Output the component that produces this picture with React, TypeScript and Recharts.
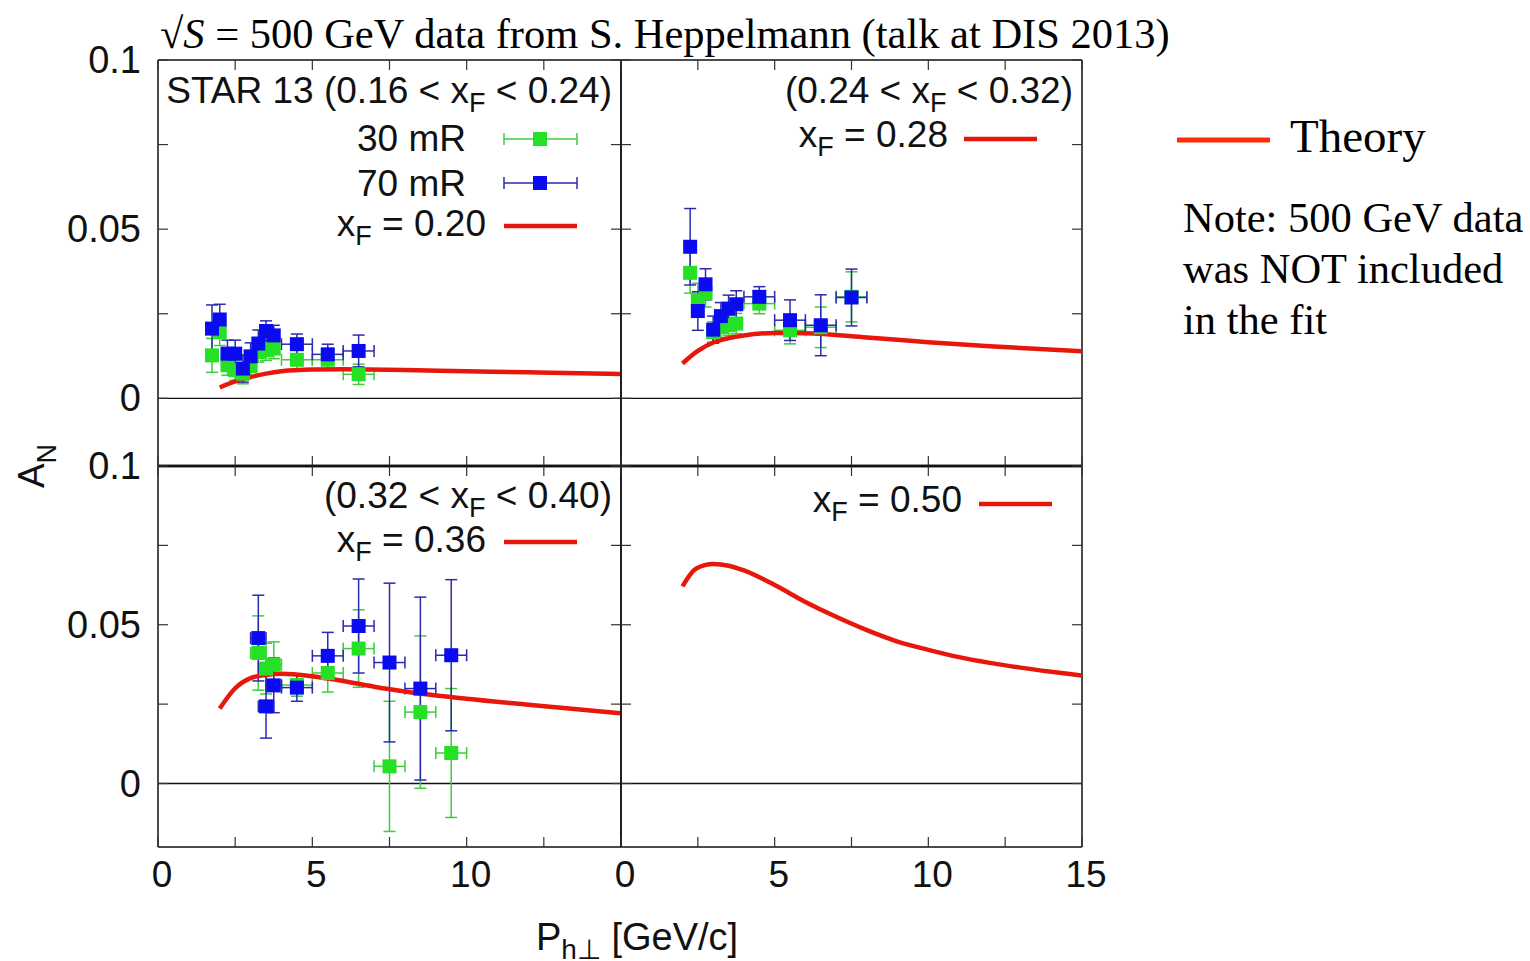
import React from 'react';
import { ScatterChart, Scatter, XAxis, YAxis, ErrorBar, ReferenceLine } from 'recharts';

const RED = '#e8170c';
const GREEN = '#26e026';
const GREEN_ERR = '#3ccc3c';
const BLUE = '#0b0bf2';
const BLUE_ERR = '#2a2ab0';
const FRAME = '#111';
const SANS = '"Liberation Sans", Arial, sans-serif';
const SERIF = '"Liberation Serif", "Times New Roman", serif';
const FS = 37;

// panel 1: 0.16 < xF < 0.24
const x20 = [1.75, 2.0, 2.25, 2.5, 2.75, 3.0, 3.25, 3.5, 3.75, 4.5, 5.5, 6.5];
const ex20 = [0.125, 0.125, 0.125, 0.125, 0.125, 0.125, 0.125, 0.125, 0.125, 0.5, 0.5, 0.5];
const blue20 = [0.0206, 0.0233, 0.0132, 0.0132, 0.0088, 0.0124, 0.0162, 0.0199, 0.0186, 0.016, 0.013, 0.014];
const blueErr20 = [0.007, 0.0045, 0.004, 0.004, 0.004, 0.004, 0.004, 0.003, 0.003, 0.003, 0.003, 0.0047];
const green20 = [0.0127, 0.0196, 0.0098, 0.0083, 0.0073, 0.0095, 0.0137, 0.0142, 0.0147, 0.0114, 0.0114, 0.0071];
const greenErr20 = [0.005, 0.004, 0.003, 0.003, 0.003, 0.003, 0.003, 0.003, 0.003, 0.003, 0.003, 0.003];
const thX20 = [2.0, 2.5, 3.0, 3.5, 4.0, 5.0, 6.0, 8.0, 10.0, 12.0, 15.0];
const thY20 = [0.0032, 0.005, 0.0063, 0.0073, 0.008, 0.0085, 0.0086, 0.0084, 0.008, 0.0077, 0.0072];

// panel 2: 0.24 < xF < 0.32
const x28 = [2.25, 2.5, 2.75, 3.0, 3.25, 3.5, 3.75, 4.5, 5.5, 6.5, 7.5];
const ex28 = [0.125, 0.125, 0.125, 0.125, 0.125, 0.125, 0.125, 0.5, 0.5, 0.5, 0.5];
const blue28 = [0.0448, 0.0258, 0.0337, 0.0203, 0.0243, 0.0265, 0.0278, 0.03, 0.0231, 0.0216, 0.0298];
const blueErr28 = [0.0113, 0.0057, 0.0046, 0.004, 0.004, 0.004, 0.004, 0.003, 0.006, 0.009, 0.0084];
const green28 = [0.0371, 0.029, 0.031, 0.0196, 0.021, 0.0216, 0.0221, 0.028, 0.0201, 0.021, 0.03];
const greenErr28 = [0.006, 0.005, 0.004, 0.003, 0.003, 0.003, 0.003, 0.003, 0.004, 0.006, 0.0074];
const thX28 = [2.0, 2.5, 3.0, 3.5, 4.0, 5.0, 6.0, 8.0, 10.0, 12.0, 15.0];
const thY28 = [0.0103, 0.014, 0.0165, 0.0178, 0.0186, 0.0193, 0.0192, 0.018, 0.0166, 0.0154, 0.0139];

// panel 3: 0.32 < xF < 0.40
const x36 = [3.25, 3.5, 3.75, 4.5, 5.5, 6.5, 7.5, 8.5, 9.5];
const ex36 = [0.25, 0.25, 0.25, 0.5, 0.5, 0.5, 0.5, 0.5, 0.5];
const blue36 = [0.0458, 0.0243, 0.0309, 0.0302, 0.0402, 0.0496, 0.0381, 0.0299, 0.0404];
const blueErr36 = [0.0135, 0.01, 0.0086, 0.0043, 0.0074, 0.0148, 0.025, 0.0288, 0.0238];
const green36 = [0.0411, 0.0362, 0.0374, 0.031, 0.0348, 0.0425, 0.0054, 0.0225, 0.0096];
const greenErr36 = [0.0117, 0.008, 0.0072, 0.0035, 0.006, 0.0122, 0.0205, 0.024, 0.0203];
const thX36 = [2.0, 2.5, 3.0, 3.5, 4.0, 5.0, 6.0, 7.0, 8.0, 10.0, 12.0, 15.0];
const thY36 = [0.0236, 0.03, 0.0332, 0.0342, 0.0346, 0.0338, 0.0323, 0.0305, 0.029, 0.0267, 0.0248, 0.0221];

// panel 4: xF = 0.50 (theory only)
const thX50 = [2.0, 2.45, 3.0, 3.5, 4.0, 5.0, 6.0, 7.0, 8.0, 9.0, 10.0, 11.0, 12.0, 13.0, 14.0, 15.0];
const thY50 = [0.0621, 0.0677, 0.0691, 0.0686, 0.0671, 0.0625, 0.0572, 0.0525, 0.0483, 0.0447, 0.0421, 0.0398, 0.038, 0.0365, 0.0352, 0.034];

const xTicks = [0, 2.5, 5, 7.5, 10, 12.5, 15];
const yTicks = [0, 0.025, 0.05, 0.075, 0.1];

const points = (xs: number[], ex: number[], ys: number[], ey: number[]) =>
  xs.map((x, i) => ({ x, y: ys[i], ex: ex[i], ey: ey[i] }));
const curve = (xs: number[], ys: number[]) => xs.map((x, i) => ({ x, y: ys[i] }));

const PAD = 90;
const TICK = 10;

const xLabel = (v: number) => (v % 5 === 0 ? String(v) : '');
const yLabel = (v: number) => (v === 0 ? '0' : v === 0.05 ? '0.05' : v === 0.1 ? '0.1' : '');

const bottomTick = (labels: boolean, with15: boolean) => (p: any) => {
  const v = p.payload.value;
  const txt = labels && (v !== 15 || with15) ? xLabel(v) : '';
  return (
    <g>
      <line x1={p.x} y1={p.y} x2={p.x} y2={p.y - TICK} stroke="#333" strokeWidth={1.2} />
      {txt && (
        <text x={p.x + 4} y={p.y + 40} textAnchor="middle" fontFamily={SANS} fontSize={FS} fill="#111">
          {txt}
        </text>
      )}
    </g>
  );
};

const topTick = (p: any) => (
  <line x1={p.x} y1={p.y} x2={p.x} y2={p.y + TICK} stroke="#333" strokeWidth={1.2} />
);

const leftTick = (labels: boolean) => (p: any) => {
  const txt = labels ? yLabel(p.payload.value) : '';
  return (
    <g>
      <line x1={p.x} y1={p.y} x2={p.x + TICK} y2={p.y} stroke="#333" strokeWidth={1.2} />
      {txt && (
        <text x={p.x - 17} y={p.y + 13} textAnchor="end" fontFamily={SANS} fontSize={38} fill="#111">
          {txt}
        </text>
      )}
    </g>
  );
};

const rightTick = (p: any) => (
  <line x1={p.x} y1={p.y} x2={p.x - TICK} y2={p.y} stroke="#333" strokeWidth={1.2} />
);

const square = (color: string) => (p: any) => (
  <rect x={p.cx - 7} y={p.cy - 7} width={14} height={14} fill={color} />
);

interface PanelProps {
  left: number;
  top: number;
  w: number;
  h: number;
  xLabels: boolean;
  with15: boolean;
  yLabels: boolean;
  bottomWidth: number;
  topWidth: number;
  green?: any[];
  blue?: any[];
  theory: any[];
}

const Panel: React.FC<PanelProps> = ({ left, top, w, h, xLabels, with15, yLabels, bottomWidth, topWidth, green, blue, theory }) => (
  <div style={{ position: 'absolute', left: left - PAD, top: top - PAD }}>
    <ScatterChart width={w + 2 * PAD} height={h + 2 * PAD} margin={{ top: 0, right: 0, bottom: 0, left: 0 }}>
      <XAxis
        type="number"
        dataKey="x"
        domain={[0, 15]}
        ticks={xTicks}
        interval={0}
        height={PAD}
        tickSize={0}
        tickMargin={0}
        tickLine={false}
        allowDataOverflow
        axisLine={{ stroke: FRAME, strokeWidth: bottomWidth }}
        tick={bottomTick(xLabels, with15)}
      />
      <XAxis
        xAxisId="t"
        orientation="top"
        type="number"
        dataKey="x"
        domain={[0, 15]}
        ticks={xTicks}
        interval={0}
        height={PAD}
        tickSize={0}
        tickMargin={0}
        tickLine={false}
        allowDataOverflow
        axisLine={{ stroke: FRAME, strokeWidth: topWidth }}
        tick={topTick}
      />
      <YAxis
        type="number"
        dataKey="y"
        domain={[-0.02, 0.1]}
        ticks={yTicks}
        interval={0}
        width={PAD}
        tickSize={0}
        tickMargin={0}
        tickLine={false}
        allowDataOverflow
        axisLine={{ stroke: FRAME, strokeWidth: 1.5 }}
        tick={leftTick(yLabels)}
      />
      <YAxis
        yAxisId="r"
        orientation="right"
        type="number"
        dataKey="y"
        domain={[-0.02, 0.1]}
        ticks={yTicks}
        interval={0}
        width={PAD}
        tickSize={0}
        tickMargin={0}
        tickLine={false}
        allowDataOverflow
        axisLine={{ stroke: FRAME, strokeWidth: 1.5 }}
        tick={rightTick}
      />
      <ReferenceLine y={0} stroke="#111" strokeWidth={1.3} />
      <Scatter
        data={theory}
        line={{ stroke: RED, strokeWidth: 4.5, strokeLinejoin: 'round' }}
        lineJointType="monotoneX"
        shape={() => <g />}
        isAnimationActive={false}
      />
      {green && (
        <Scatter data={green} fill={GREEN} shape={square(GREEN)} isAnimationActive={false}>
          <ErrorBar dataKey="ey" direction="y" stroke={GREEN_ERR} strokeWidth={1.5} width={6} />
          <ErrorBar dataKey="ex" direction="x" stroke={GREEN_ERR} strokeWidth={1.5} width={6} />
        </Scatter>
      )}
      {blue && (
        <Scatter data={blue} fill={BLUE} shape={square(BLUE)} isAnimationActive={false}>
          <ErrorBar dataKey="ey" direction="y" stroke={BLUE_ERR} strokeWidth={1.5} width={6} />
          <ErrorBar dataKey="ex" direction="x" stroke={BLUE_ERR} strokeWidth={1.5} width={6} />
        </Scatter>
      )}
    </ScatterChart>
  </div>
);

const XF = ({ pre, post }: { pre: string; post: string }) => (
  <>
    {pre}x
    <tspan dy={9} fontSize={27}>F</tspan>
    <tspan dy={-9}>{post}</tspan>
  </>
);

const ErrSample = ({ y, color, err }: { y: number; color: string; err: string }) => (
  <g>
    <line x1={504} y1={y} x2={577} y2={y} stroke={err} strokeWidth={1.5} />
    <line x1={504} y1={y - 6} x2={504} y2={y + 6} stroke={err} strokeWidth={1.5} />
    <line x1={577} y1={y - 6} x2={577} y2={y + 6} stroke={err} strokeWidth={1.5} />
    <rect x={533} y={y - 7} width={14} height={14} fill={color} />
  </g>
);

const Overlay = () => (
  <svg width={1530} height={961} style={{ position: 'absolute', left: 0, top: 0, pointerEvents: 'none' }}>
    <text x={160} y={48} fontFamily={SERIF} fontSize={42.5} fill="#000">
      √<tspan fontStyle="italic">S</tspan> = 500 GeV data from S. Heppelmann (talk at DIS 2013)
    </text>

    <g fontFamily={SANS} fontSize={FS} fill="#111" textAnchor="end">
      <text x={612} y={103}><XF pre="STAR 13 (0.16 < " post=" < 0.24)" /></text>
      <text x={466} y={151}>30 mR</text>
      <text x={466} y={196}>70 mR</text>
      <text x={486} y={236}><XF pre="" post=" = 0.20" /></text>

      <text x={1073} y={103}><XF pre="(0.24 < " post=" < 0.32)" /></text>
      <text x={948} y={147}><XF pre="" post=" = 0.28" /></text>

      <text x={612} y={508}><XF pre="(0.32 < " post=" < 0.40)" /></text>
      <text x={486} y={552}><XF pre="" post=" = 0.36" /></text>

      <text x={962} y={512}><XF pre="" post=" = 0.50" /></text>
    </g>

    <ErrSample y={139} color={GREEN} err={GREEN_ERR} />
    <ErrSample y={183} color={BLUE} err={BLUE_ERR} />
    <line x1={504} y1={226} x2={577} y2={226} stroke={RED} strokeWidth={4.5} />
    <line x1={964} y1={139} x2={1037} y2={139} stroke={RED} strokeWidth={4.5} />
    <line x1={504} y1={542} x2={577} y2={542} stroke={RED} strokeWidth={4.5} />
    <line x1={979} y1={504} x2={1052} y2={504} stroke={RED} strokeWidth={4.5} />

    <text transform="translate(44, 466) rotate(-90)" textAnchor="middle" fontFamily={SANS} fontSize={FS} fill="#111">
      A<tspan dy={12} fontSize={27}>N</tspan>
    </text>
    <text x={637} y={950} textAnchor="middle" fontFamily={SANS} fontSize={38} fill="#111">
      P<tspan dy={9} fontSize={28}>h⊥</tspan>
      <tspan dy={-9}> [GeV/c]</tspan>
    </text>

    <line x1={1177} y1={140} x2={1270} y2={140} stroke="#ff2a0a" strokeWidth={5} />
    <text x={1290} y={152} fontFamily={SERIF} fontSize={47} fill="#000">Theory</text>
    <g fontFamily={SERIF} fontSize={42.5} fill="#000">
      <text x={1183} y={232}>Note: 500 GeV data</text>
      <text x={1183} y={283}>was NOT included</text>
      <text x={1183} y={334}>in the fit</text>
    </g>
  </svg>
);

export default function App() {
  return (
    <div style={{ position: 'absolute', left: 0, top: 0, width: 1530, height: 961, background: '#fff' }}>
      <Panel
        left={158} top={60} w={463} h={406}
        xLabels={false} with15={false} yLabels bottomWidth={2.5} topWidth={1.5}
        green={points(x20, ex20, green20, greenErr20)}
        blue={points(x20, ex20, blue20, blueErr20)}
        theory={curve(thX20, thY20)}
      />
      <Panel
        left={621} top={60} w={461} h={406}
        xLabels={false} with15={false} yLabels={false} bottomWidth={2.5} topWidth={1.5}
        green={points(x28, ex28, green28, greenErr28)}
        blue={points(x28, ex28, blue28, blueErr28)}
        theory={curve(thX28, thY28)}
      />
      <Panel
        left={158} top={466} w={463} h={381}
        xLabels with15={false} yLabels bottomWidth={1.5} topWidth={2.5}
        green={points(x36, ex36, green36, greenErr36)}
        blue={points(x36, ex36, blue36, blueErr36)}
        theory={curve(thX36, thY36)}
      />
      <Panel
        left={621} top={466} w={461} h={381}
        xLabels with15 yLabels={false} bottomWidth={1.5} topWidth={2.5}
        theory={curve(thX50, thY50)}
      />
      <Overlay />
    </div>
  );
}
